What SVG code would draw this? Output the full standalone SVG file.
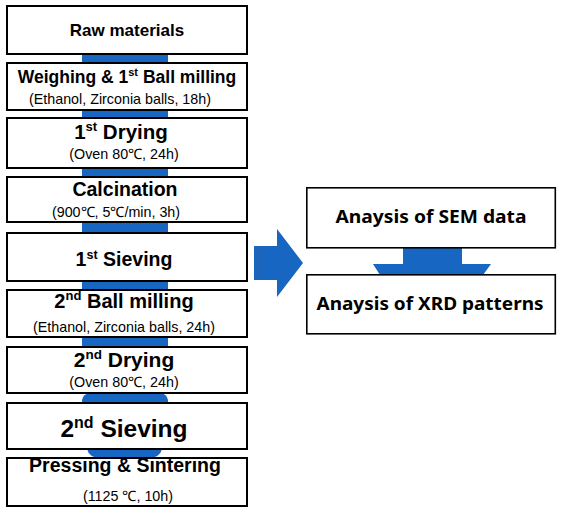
<svg xmlns="http://www.w3.org/2000/svg" width="562" height="513" viewBox="0 0 562 513">
<style>
.box{fill:#fff;stroke:#000;stroke-width:2}
.rbox{fill:#fff;stroke:#000;stroke-width:1.6}
.blue{fill:#1766C2}
.t{font-family:"Liberation Sans",Arial,sans-serif;font-weight:bold;text-anchor:middle;fill:#000}
.s{font-family:"Liberation Sans",Arial,sans-serif;font-size:14.3px;text-anchor:middle;fill:#000}
.r{font-family:"Noto Sans","Open Sans",sans-serif;font-weight:bold;font-size:18px;text-anchor:middle;fill:#000}
</style>
<g id="connectors">
<rect class="blue" x="82" y="54" width="86" height="10"/>
<rect class="blue" x="82" y="110" width="86" height="9"/>
<rect class="blue" x="82" y="168" width="86" height="10"/>
<rect class="blue" x="82" y="222" width="86" height="12"/>
<rect class="blue" x="82" y="281" width="86" height="10"/>
<rect class="blue" x="82" y="337" width="86" height="10"/>
<path class="blue" d="M82,403 L82,400 Q83,394 90,393 L160,393 Q167,394 168,400 L168,403 Z"/>
<path class="blue" d="M87,449 L162,449 Q160,458 148,458 L101,458 Q89,458 87,449 Z"/>
<polygon class="blue" points="254,246 277,246 277,229 303,263 277,297 277,280 254,280"/>
<line x1="257" y1="246" x2="257" y2="280" stroke="#2a5ea8" stroke-width="1"/>
<line x1="261" y1="246" x2="261" y2="280" stroke="#2a5ea8" stroke-width="1"/>
<polygon class="blue" points="403,247 462,247 462,264 491,264 483,275 380,275 373,264 403,264"/>
</g>
<g id="n1"><rect class="box" x="7" y="6" width="240" height="48"/>
<text class="t" x="127" y="36" font-size="17">Raw materials</text></g>
<g id="n2"><rect class="box" x="7" y="63" width="240" height="47"/>
<text class="t" x="127" y="83" font-size="17.5">Weighing &amp; 1<tspan font-size="11" dy="-7">st</tspan><tspan dy="7"> Ball milling</tspan></text>
<text class="s" x="120" y="104">(Ethanol, Zirconia balls, 18h)</text></g>
<g id="n3"><rect class="box" x="7" y="118" width="240" height="50"/>
<text class="t" x="121" y="139" font-size="20.5">1<tspan font-size="13" dy="-8">st</tspan><tspan dy="8"> Drying</tspan></text>
<text class="s" x="124" y="159">(Oven 80℃, 24h)</text></g>
<g id="n4"><rect class="box" x="7" y="177" width="240" height="45"/>
<text class="t" x="125" y="196" font-size="19.5">Calcination</text>
<text class="s" x="116" y="217">(900℃, 5℃/min, 3h)</text></g>
<g id="n5"><rect class="box" x="7" y="233" width="240" height="48"/>
<text class="t" x="124" y="266" font-size="19.5">1<tspan font-size="12.5" dy="-7">st</tspan><tspan dy="7"> Sieving</tspan></text></g>
<g id="n6"><rect class="box" x="7" y="290" width="240" height="47"/>
<text class="t" x="124" y="308" font-size="20">2<tspan font-size="13" dy="-8">nd</tspan><tspan dy="8"> Ball milling</tspan></text>
<text class="s" x="124" y="332">(Ethanol, Zirconia balls, 24h)</text></g>
<g id="n7"><rect class="box" x="7" y="347" width="240" height="46"/>
<text class="t" x="124" y="367" font-size="21">2<tspan font-size="13.5" dy="-8">nd</tspan><tspan dy="8"> Drying</tspan></text>
<text class="s" x="124" y="387">(Oven 80℃, 24h)</text></g>
<g id="n8"><rect class="box" x="7" y="403" width="240" height="46"/>
<text class="t" x="124" y="437" font-size="24.5">2<tspan font-size="16" dy="-9">nd</tspan><tspan dy="9"> Sieving</tspan></text></g>
<g id="n9"><rect class="box" x="7" y="458" width="240" height="48"/>
<text class="t" x="125" y="472" font-size="19.5">Pressing &amp; Sintering</text>
<text class="s" x="128" y="501">(1125 ℃, 10h)</text></g>
<g id="n10"><rect class="rbox" x="306.8" y="187.8" width="248.5" height="60"/>
<text class="r" x="431" y="223" textLength="191" lengthAdjust="spacingAndGlyphs">Anaysis of SEM data</text></g>
<g id="n11"><rect class="rbox" x="306.8" y="274.8" width="248.5" height="59"/>
<text class="r" x="430" y="310" textLength="227" lengthAdjust="spacingAndGlyphs">Anaysis of XRD patterns</text></g>
</svg>
